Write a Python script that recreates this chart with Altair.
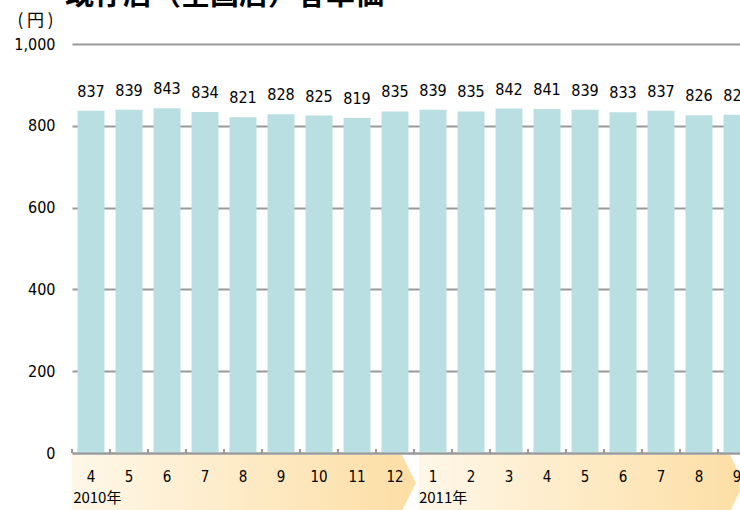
import altair as alt
import pandas as pd

months = ["2010/4", "2010/5", "2010/6", "2010/7", "2010/8", "2010/9", "2010/10", "2010/11", "2010/12",
          "2011/1", "2011/2", "2011/3", "2011/4", "2011/5", "2011/6", "2011/7", "2011/8", "2011/9"]
values = [837, 839, 843, 834, 821, 828, 825, 819, 835,
          839, 835, 842, 841, 839, 833, 837, 826, 827]

year_labels = ["2010年", "2011年"]
year_start = [0.03, 9.13]          # in month-slot units
seg_x = [[0, 8.68, 9.05], [9.13, 17.32, 17.68]]
tick_idx = list(range(19))

df = pd.DataFrame({"month": months, "value": values})

NUM_FONT = "Liberation Sans Narrow, DejaVu Sans Condensed, DejaVu Sans"
JP_FONT = "Noto Sans CJK JP"
YEAR_FONT = "Liberation Sans Narrow, Noto Sans CJK JP"

band_scale = alt.Scale(range=[0, 684], paddingInner=0.29, paddingOuter=0.145)
band_x = alt.X("month:N", sort=months, title=None, scale=band_scale,
               axis=alt.Axis(labelExpr="split(datum.label, '/')[1]", labelAngle=0,
                             labelFont=NUM_FONT, labelFontSize=15, labelColor="#000",
                             labelBaseline="middle", labelPadding=23, ticks=False,
                             domainColor="#999999", domainWidth=2, zindex=2))

y_scale = alt.Scale(domain=[0, 1000], nice=False)
y_axis = alt.Axis(values=[0, 200, 400, 600, 800, 1000], format=",d",
                  labelFont=NUM_FONT, labelFontSize=16, labelColor="#000",
                  labelPadding=17, ticks=False, domain=False,
                  gridColor="#999999", gridWidth=2,
                  title="( 円 )", titleAngle=0, titleFont=JP_FONT,
                  titleFontSize=17, titleFontWeight="normal", titleColor="#000",
                  titleAlign="left", titleBaseline="middle",
                  titleX=-55, titleY=-24)

qx_scale = alt.Scale(domain=[0, 18], range=[0, 684], nice=False, zero=False)

# background chevron bands
rows = []
for s, xs in enumerate(seg_x):
    rows.append({"seg": s, "x": xs[0], "top": -4.9, "bot": -141.8})
    rows.append({"seg": s, "x": xs[1], "top": -4.9, "bot": -141.8})
    rows.append({"seg": s, "x": xs[2], "top": -73.3, "bot": -73.3})
seg_df = pd.DataFrame(rows)

grad = alt.LinearGradient(gradient="linear",
                          stops=[alt.GradientStop(color="#fef7e8", offset=0),
                                 alt.GradientStop(color="#fddea4", offset=1)],
                          x1=0, x2=1, y1=0, y2=0)

bands = alt.Chart(seg_df).mark_area(color=grad).encode(
    x=alt.X("x:Q", scale=qx_scale, axis=None),
    y=alt.Y("top:Q", scale=y_scale, axis=y_axis),
    y2="bot:Q",
    detail="seg:N",
)

ticks = alt.Chart(pd.DataFrame({"t": tick_idx, "y0": 0, "y1": 10})).mark_rule(
    color="#999999", strokeWidth=2).encode(
    x=alt.X("t:Q", scale=qx_scale, axis=None),
    y=alt.Y("y0:Q", scale=y_scale, axis=y_axis),
    y2="y1:Q",
)

years = alt.Chart(pd.DataFrame({"label": year_labels, "x": year_start, "y": -110})).mark_text(
    align="left", baseline="middle", font=YEAR_FONT, fontSize=15, color="#000").encode(
    x=alt.X("x:Q", scale=qx_scale, axis=None),
    y=alt.Y("y:Q", scale=y_scale, axis=y_axis),
    text="label:N",
)

bars = alt.Chart(df).mark_bar(color="#b9dfe2").encode(
    x=band_x, y=alt.Y("value:Q", scale=y_scale, axis=y_axis))

labels = alt.Chart(df).mark_text(baseline="middle", dy=-19, font=NUM_FONT, fontSize=16,
                                 color="#000").encode(
    x=alt.X("month:N", sort=months, scale=band_scale, axis=None),
    y=alt.Y("value:Q", scale=y_scale, axis=y_axis),
    text="value:Q")

chart = alt.layer(bands, ticks, years, bars, labels).resolve_scale(x="independent").properties(
    width=668, height=409,
    autosize=alt.AutoSizeParams(type="none"),
    padding={"left": 72, "top": 44, "right": 0, "bottom": 57},
    title=alt.TitleParams(text="既存店（全国店）客単価", anchor="start", fontSize=29,
                          fontWeight="bold", font=JP_FONT, color="#000", dx=-7, dy=6,
                          offset=6, frame="group"),
).configure_view(stroke=None)

chart.save("out.html", embed_options={"renderer": "svg", "actions": False})
